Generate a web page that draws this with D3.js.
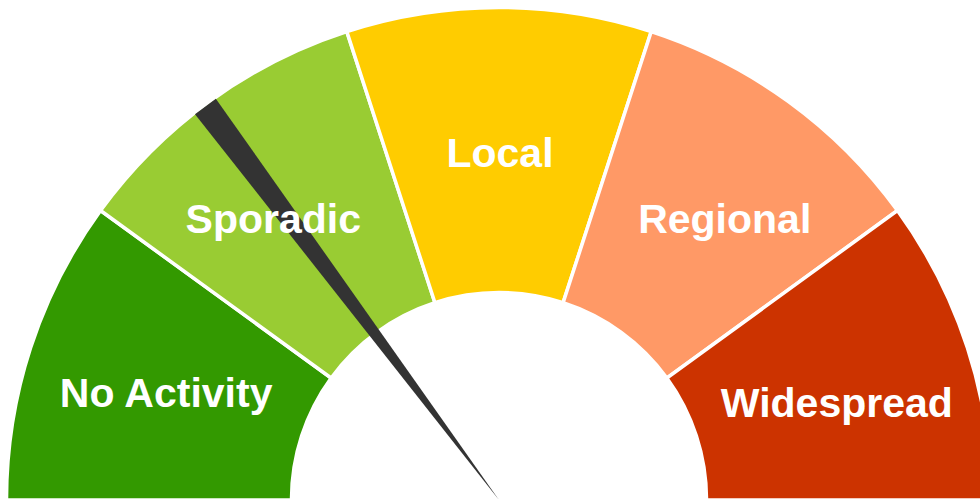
<!DOCTYPE html>
<html>
<head>
<meta charset="utf-8">
<script src="https://cdn.jsdelivr.net/npm/d3@7/dist/d3.min.js"></script>
<style>
  html, body { margin: 0; padding: 0; background: #ffffff; overflow: hidden; }
  svg { display: block; }
</style>
</head>
<body>
<svg id="chart" width="980" height="499"></svg>
<script>
// ---- data ----
const categories = ["No Activity", "Sporadic", "Local", "Regional", "Widespread"];
const bandSizes = [1, 1, 1, 1, 1];
const colors = ["#339900", "#99cc33", "#ffcc00", "#ff9966", "#cc3300"];
const needleValue = 1.48;   // on the 0..5 activity scale

// ---- layout ----
const W = 980, H = 499;
const cx = 499, cy = 500;
const rOuter = 492.5, rInner = 207.5;
const labelNudge = [[0, 0], [-20, 1], [1, 2], [20, 1], [5, 10]];

const svg = d3.select("#chart");
const g = svg.append("g").attr("transform", `translate(${cx},${cy})`);

const total = d3.sum(bandSizes);
const angle = d3.scaleLinear().domain([0, total]).range([-Math.PI / 2, Math.PI / 2]);

const pie = d3.pie().sort(null).value(d => d).startAngle(-Math.PI / 2).endAngle(Math.PI / 2);
const arcs = pie(bandSizes);

const arc = d3.arc().innerRadius(rInner).outerRadius(rOuter);
const labelArc = d3.arc().innerRadius(209).outerRadius(491);

g.selectAll("path.band")
  .data(arcs)
  .join("path")
  .attr("class", "band")
  .attr("d", arc)
  .attr("fill", (d, i) => colors[i])
  .attr("stroke", "#ffffff")
  .attr("stroke-width", 3.5)
  .attr("stroke-linejoin", "miter");

// needle
const a = angle(needleValue);
const needleLen = 491, halfBase = 13;
const ux = Math.sin(a), uy = -Math.cos(a);
const px = Math.cos(a), py = Math.sin(a);
const pts = [
  [0, 0],
  [ux * needleLen + px * halfBase, uy * needleLen + py * halfBase],
  [ux * needleLen - px * halfBase, uy * needleLen - py * halfBase]
];
g.append("path")
  .attr("d", d3.line()(pts) + "Z")
  .attr("fill", "#333333");

// labels on top
g.selectAll("text.label")
  .data(arcs)
  .join("text")
  .attr("class", "label")
  .attr("x", (d, i) => labelArc.centroid(d)[0] + labelNudge[i][0])
  .attr("y", (d, i) => labelArc.centroid(d)[1] + labelNudge[i][1])
  .attr("dy", "0.358em")
  .attr("text-anchor", "middle")
  .attr("fill", "#ffffff")
  .attr("font-family", "'Liberation Sans', Arial, sans-serif")
  .attr("font-weight", "bold")
  .attr("font-size", 41)
  .text((d, i) => categories[i]);
</script>
</body>
</html>
